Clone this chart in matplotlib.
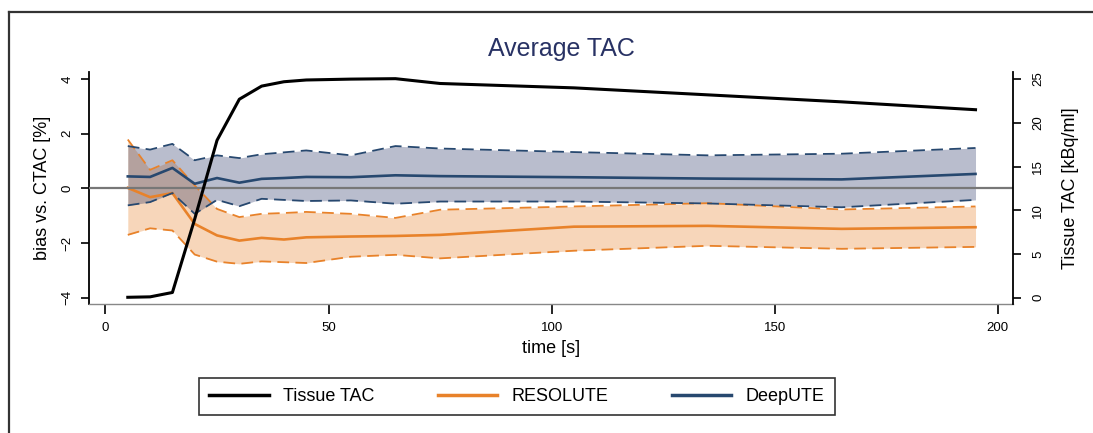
import matplotlib.pyplot as plt
from matplotlib.lines import Line2D

plt.rcParams['font.family'] = ['Liberation Sans', 'DejaVu Sans']

# frame mid times [s]
t = [5, 10, 15, 20, 25, 30, 35, 40, 45, 55, 65, 75, 105, 135, 165, 195]

# tissue TAC [kBq/ml]
tac = [0.05, 0.1, 0.6, 9.0, 18.0, 22.7, 24.2, 24.7, 24.9, 25.0, 25.05, 24.5, 24.0, 23.2, 22.4, 21.5]

# bias vs. CTAC [%]
res_mean = [0.02, -0.32, -0.17, -1.30, -1.72, -1.91, -1.81, -1.87, -1.79, -1.76, -1.74, -1.70, -1.40, -1.37, -1.48, -1.42]
res_up = [1.79, 0.68, 1.03, 0.11, -0.75, -1.05, -0.93, -0.90, -0.86, -0.93, -1.08, -0.78, -0.66, -0.54, -0.77, -0.66]
res_lo = [-1.70, -1.46, -1.54, -2.42, -2.68, -2.76, -2.67, -2.70, -2.73, -2.50, -2.43, -2.56, -2.28, -2.10, -2.21, -2.14]

deep_mean = [0.44, 0.42, 0.75, 0.17, 0.38, 0.21, 0.35, 0.38, 0.42, 0.41, 0.48, 0.45, 0.41, 0.36, 0.33, 0.53]
deep_up = [1.55, 1.42, 1.63, 1.03, 1.21, 1.11, 1.25, 1.32, 1.39, 1.21, 1.55, 1.46, 1.33, 1.21, 1.27, 1.48]
deep_lo = [-0.62, -0.50, -0.17, -0.93, -0.42, -0.65, -0.38, -0.42, -0.46, -0.44, -0.56, -0.48, -0.48, -0.55, -0.69, -0.42]

orange = '#E8822A'
blue = '#27486F'
navy = '#283264'

fig = plt.figure(figsize=(10.93, 4.33), dpi=100)
ax = fig.add_axes([0.0814, 0.2979, 0.8454, 0.5358])

ax.fill_between(t, res_lo, res_up, color=orange, alpha=0.32, lw=0)
ax.fill_between(t, deep_lo, deep_up, color=navy, alpha=0.32, lw=0)
ax.axhline(0, color='#777777', lw=1.6, zorder=3)

dash = (0, (6.5, 3.5))
ax.plot(t, res_up, color=orange, lw=1.3, ls=dash)
ax.plot(t, res_lo, color=orange, lw=1.3, ls=dash)
ax.plot(t, res_mean, color=orange, lw=1.9)
ax.plot(t, deep_up, color=blue, lw=1.3, ls=dash)
ax.plot(t, deep_lo, color=blue, lw=1.3, ls=dash)
ax.plot(t, deep_mean, color=blue, lw=1.9)

ax.set_xlim(-3.7, 203.4)
ax.set_ylim(-4.23, 4.26)
ax.set_yticks([-4, -2, 0, 2, 4])
ax.set_xticks([0, 50, 100, 150, 200])
ax.tick_params(axis='y', labelsize=9.5, length=6, width=1.2, labelrotation=90, pad=5)
ax.tick_params(axis='x', labelsize=9.5, length=7, width=1.2, pad=6)
for lab in ax.get_yticklabels():
    lab.set_va('center')
ax.spines['top'].set_visible(False)
ax.spines['right'].set_visible(False)
ax.spines['left'].set_linewidth(1.3)
ax.spines['bottom'].set_color('#888888')
ax.spines['bottom'].set_linewidth(1.0)
ax.set_ylabel('bias vs. CTAC [%]', fontsize=13, labelpad=8)
ax.set_xlabel('time [s]', fontsize=13, labelpad=4)

ax2 = ax.twinx()
ax2.plot(t, tac, color='black', lw=2.2)
ax2.set_ylim((-4.23 + 4) * 25 / 8, (4.26 + 4) * 25 / 8)
ax2.set_yticks([0, 5, 10, 15, 20, 25])
ax2.tick_params(axis='y', labelsize=9.5, length=6, width=1.2, labelrotation=90, pad=8)
for lab in ax2.get_yticklabels():
    lab.set_va('center')
for s in ['top', 'left', 'bottom']:
    ax2.spines[s].set_visible(False)
ax2.spines['right'].set_linewidth(1.3)
ax2.set_ylabel('Tissue TAC [kBq/ml]', fontsize=13, rotation=90, labelpad=13)

fig.text(0.514, 0.887, 'Average TAC', fontsize=18, color=navy, ha='center', va='center')

handles = [Line2D([], [], color='black', lw=2.5),
           Line2D([], [], color=orange, lw=2.5),
           Line2D([], [], color=blue, lw=2.5)]
leg = fig.legend(handles, ['Tissue TAC', 'RESOLUTE', 'DeepUTE'], loc='center',
                 bbox_to_anchor=(0.473, 0.084), ncol=3, fontsize=13, frameon=True,
                 fancybox=False, edgecolor='black', handlelength=3.3,
                 columnspacing=3.5, borderpad=0.55)
leg.get_frame().set_linewidth(1.2)

# outer frame (clipped at right and bottom edges)
fig.add_artist(Line2D([0.0085, 1.0], [0.973, 0.973], color='#333333', lw=1.6))
fig.add_artist(Line2D([0.0085, 0.0085], [0.0, 0.973], color='#333333', lw=1.6))

fig.savefig('out.png', dpi=100)
